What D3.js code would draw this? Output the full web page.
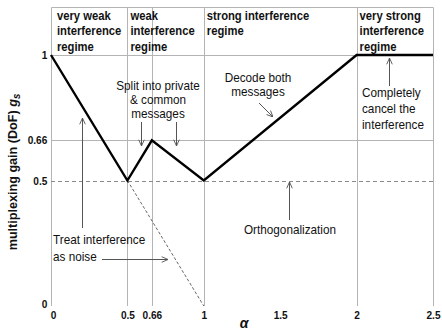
<!DOCTYPE html>
<html>
<head>
<meta charset="utf-8">
<script src="https://cdn.jsdelivr.net/npm/d3@7"></script>
<style>
  html, body { margin: 0; padding: 0; background: #fff; }
  svg { display: block; }
  text { font-family: "Liberation Sans", Arial, sans-serif; fill: #111; }
  .bold { font-weight: bold; }
</style>
</head>
<body>
<svg id="chart" width="442" height="331"></svg>
<script>
// Generalized degrees of freedom ("W" curve) of the two-user interference channel
const xTicks = [0, 0.5, 0.66, 1, 1.5, 2, 2.5];
const xTickLabels = ["0", "0.5", "0.66", "1", "1.5", "2", "2.5"];
const yTicks = [0, 0.5, 0.66, 1];
const yTickLabels = ["0", "0.5", "0.66", "1"];
const xGrid = [0.5, 0.66, 1, 2];
const ySolidGrid = [0.66, 1];
const yDashedGrid = [0.5];

// optimal scheme: gain per user versus alpha
const alphaValues = [0, 0.5, 0.66, 1, 2, 2.5];
const gainValues = [1, 0.5, 0.66, 0.5, 1, 1];

// treating interference as noise beyond alpha = 0.5
const tinAlpha = [0.5, 1];
const tinGain = [0.5, 0];

// interference regimes (start of each band) and their titles
const regimeStart = [0, 0.5, 1, 2];
const regimeTitles = [
  ["very weak", "interference", "regime"],
  ["weak", "interference", "regime"],
  ["strong interference", "regime"],
  ["very strong", "interference", "regime"]
];

const svg = d3.select("#chart");
const x = d3.scaleLinear().domain([0, 2.5]).range([51, 433]);
const y = d3.scaleLinear().domain([0, 1]).range([306, 55]);
const frameTop = 7;
const gridColor = "#b4b4b4";

// narrow the glyphs horizontally around an anchor x
function narrow(sel, ax, s) {
  sel.attr("transform", `translate(${ax},0) scale(${s},1) translate(${-ax},0)`);
}

// arrow marker
svg.append("defs").append("marker")
  .attr("id", "arr").attr("viewBox", "0 0 10 10")
  .attr("refX", 10).attr("refY", 5)
  .attr("markerWidth", 7).attr("markerHeight", 7)
  .attr("markerUnits", "userSpaceOnUse")
  .attr("orient", "auto")
  .append("path").attr("d", "M1,1 L10,5 L1,9")
  .attr("fill", "none").attr("stroke", "#555").attr("stroke-width", 1.3);

// frame: left, top, right
svg.append("path")
  .attr("d", `M${x(0) + 0.5},${y(0)}V${frameTop + 0.5}H${x(2.5) + 0.5}V${y(0)}`)
  .attr("stroke", gridColor).attr("stroke-width", 1).attr("fill", "none");

// vertical grid lines through the header
svg.append("g").selectAll("line").data(xGrid).join("line")
  .attr("x1", d => Math.round(x(d)) + 0.5).attr("x2", d => Math.round(x(d)) + 0.5)
  .attr("y1", frameTop).attr("y2", y(0))
  .attr("stroke", gridColor).attr("stroke-width", 1);

// horizontal grid lines
svg.append("g").selectAll("line").data(ySolidGrid).join("line")
  .attr("x1", x(0)).attr("x2", x(2.5))
  .attr("y1", d => Math.round(y(d)) + 0.5).attr("y2", d => Math.round(y(d)) + 0.5)
  .attr("stroke", gridColor).attr("stroke-width", 1);
svg.append("g").selectAll("line").data(yDashedGrid).join("line")
  .attr("x1", x(0)).attr("x2", x(2.5))
  .attr("y1", d => Math.round(y(d)) + 0.5).attr("y2", d => Math.round(y(d)) + 0.5)
  .attr("stroke", "#8a8a8a").attr("stroke-width", 1).attr("stroke-dasharray", "4,3");

// axes (labels only)
const xAxis = d3.axisBottom(x).tickValues(xTicks).tickFormat((d, i) => xTickLabels[i]).tickSize(0).tickPadding(5);
const xg = svg.append("g").attr("transform", `translate(0,${y(0)})`).call(xAxis);
xg.select(".domain").remove();
xg.selectAll("text").attr("class", "bold").attr("font-size", 11).attr("fill", "#111")
  .attr("font-family", null).attr("transform", "scale(0.92,1)");
xg.selectAll(".tick").filter(d => d === 0).select("text").attr("dx", "0.2em");

const yAxis = d3.axisLeft(y).tickValues(yTicks).tickFormat((d, i) => yTickLabels[i]).tickSize(0).tickPadding(4);
const yg = svg.append("g").attr("transform", `translate(${x(0)},0)`).call(yAxis);
yg.select(".domain").remove();
yg.selectAll("text").attr("class", "bold").attr("font-size", 11).attr("fill", "#111")
  .attr("font-family", null).attr("transform", "scale(0.92,1)");
yg.selectAll(".tick").filter(d => d === 0).select("text").attr("dy", "0.1em");

// axis titles
svg.append("text").attr("class", "bold").attr("font-size", 13)
  .attr("transform", "translate(17,172) rotate(-90) scale(0.97,1)").attr("text-anchor", "middle")
  .call(t => {
    t.append("tspan").text("multiplexing gain (DoF) ");
    t.append("tspan").attr("font-style", "italic").text("g");
    t.append("tspan").attr("font-style", "italic").attr("font-size", 10).attr("dy", 3).text("s");
  });
svg.append("text").attr("class", "bold").attr("font-size", 14).attr("font-style", "italic")
  .attr("x", 244).attr("y", 328).attr("text-anchor", "middle").text("α");

// regime titles
regimeTitles.forEach((lines, i) => {
  const ax = x(regimeStart[i]) + (i === 0 ? 6 : 3);
  const t = svg.append("text").attr("class", "bold").attr("font-size", 12.5).attr("y", 20);
  lines.forEach((s, j) => t.append("tspan").attr("x", ax).attr("dy", j ? 15.3 : 0).text(s));
  narrow(t, ax, 0.9);
});

// curves
const line = d3.line().x(d => x(d[0])).y(d => y(d[1]));
svg.append("path").datum(d3.zip(tinAlpha, tinGain)).attr("d", line)
  .attr("fill", "none").attr("stroke", "#555").attr("stroke-width", 0.9).attr("stroke-dasharray", "3,2");
svg.append("path").datum(d3.zip(alphaValues, gainValues)).attr("d", line)
  .attr("fill", "none").attr("stroke", "#000").attr("stroke-width", 2.4).attr("stroke-linejoin", "miter");

// annotations
function note(lines, cx, y0, dy, anchor) {
  const t = svg.append("text").attr("font-size", 12.5).attr("text-anchor", anchor || "middle").attr("fill", "#111");
  lines.forEach((s, j) => t.append("tspan").attr("x", cx).attr("y", y0 + j * dy).text(s));
  narrow(t, cx, 0.94);
}
function arrow(x1, y1, x2, y2) {
  svg.append("line").attr("x1", x1).attr("y1", y1).attr("x2", x2).attr("y2", y2)
    .attr("stroke", "#555").attr("stroke-width", 1).attr("marker-end", "url(#arr)");
}

note(["Split into private", "& common", "messages"], 158, 90, 14);
arrow(141.5, 122, 141.5, 146);
arrow(176.5, 122, 176.5, 146);

note(["Decode both", "messages"], 258, 82, 14.5);
arrow(259, 103, 273, 117);

note(["Completely", "cancel the", "interference"], 362, 97, 16, "start");
arrow(389.5, 86, 389.5, 58);

note(["Orthogonalization"], 290, 234, 14);
arrow(289.5, 220, 289.5, 182);

note(["Treat interference", "as noise"], 53, 244, 17, "start");
arrow(82.5, 228, 82.5, 118);
arrow(102, 259.5, 168, 259.5);
</script>
</body>
</html>
